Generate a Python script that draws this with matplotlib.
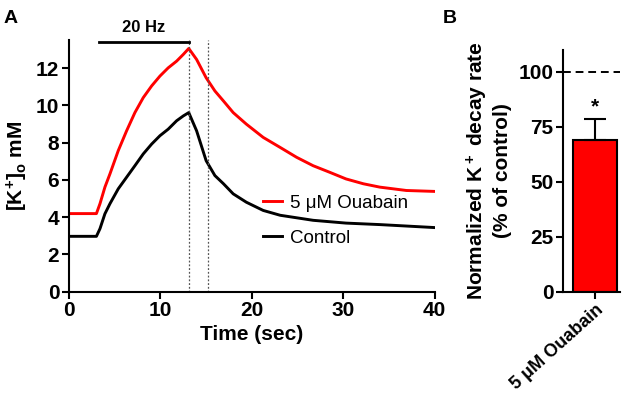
import matplotlib
matplotlib.use("Agg")
import matplotlib.pyplot as plt

plt.rcParams['font.family'] = ['Liberation Sans', 'DejaVu Sans']
plt.rcParams['mathtext.default'] = 'regular'

# panel A traces
t_ctrl = [0, 3.0, 3.39, 3.93, 4.48, 5.39, 6.30, 7.21, 8.12, 9.04, 9.95, 10.85, 11.77, 12.5, 13.1,
          13.96, 15.0, 15.96, 16.9, 17.96, 19.4, 21.24, 23.1, 26.7, 30.3, 34.0, 40]
k_ctrl = [2.97, 2.97, 3.38, 4.18, 4.72, 5.52, 6.14, 6.76, 7.39, 7.92, 8.37, 8.72, 9.17, 9.43, 9.61,
          8.63, 7.03, 6.23, 5.79, 5.25, 4.80, 4.36, 4.10, 3.83, 3.68, 3.60, 3.44]
t_oua = [0, 3.0, 3.39, 3.93, 4.48, 5.39, 6.30, 7.21, 8.12, 9.04, 9.95, 10.85, 11.77, 12.5, 13.1,
         13.96, 15.0, 15.96, 16.9, 17.96, 19.4, 21.24, 23.1, 24.9, 26.7, 28.5, 30.3, 32.2, 34.0, 36.9, 40]
k_oua = [4.19, 4.19, 4.72, 5.61, 6.32, 7.57, 8.63, 9.61, 10.41, 11.04, 11.57, 12.01, 12.37, 12.73, 13.05,
         12.46, 11.48, 10.77, 10.23, 9.61, 8.99, 8.28, 7.74, 7.21, 6.76, 6.41, 6.05, 5.79, 5.61, 5.43, 5.38]
stim = (3.3, 13.1)
marks = [13.1, 15.2]

# panel B
groups = ['5 μM Ouabain']
rate = [69]
rate_err = [9.6]

fig = plt.figure(figsize=(6.3, 4.05), dpi=100)
ax = fig.add_axes([0.1095, 0.2798, 0.5805, 0.6212])
ax.plot(t_oua, k_oua, color='#ff0000', lw=2.1, label='5 μM Ouabain')
ax.plot(t_ctrl, k_ctrl, color='black', lw=2.1, label='Control')
for m in marks:
    ax.axvline(m, color='#555555', lw=0.9, ls=(0, (1.5, 1.5)))
ax.plot(stim, [13.4, 13.4], color='black', lw=2, clip_on=False)
ax.text(sum(stim) / 2, 13.75, '20 Hz', ha='center', va='bottom', fontsize=12, fontweight='bold')
ax.set_xlim(0, 40)
ax.set_ylim(0, 13.5)
ax.set_xticks([0, 10, 20, 30, 40])
ax.set_yticks([0, 2, 4, 6, 8, 10, 12])
ax.set_xlabel('Time (sec)', fontsize=15, fontweight='bold', labelpad=3)
ax.set_ylabel('[K$^{+}$]$_{o}$ mM', fontsize=15, fontweight='bold', labelpad=4)
ax.legend(loc='center left', bbox_to_anchor=(0.505, 0.283), frameon=False, borderpad=0,
          fontsize=13.5, handlelength=1.0, handletextpad=0.45, labelspacing=0.95)

bx = fig.add_axes([0.894, 0.2798, 0.09, 0.5975])
bx.bar([0], rate, width=1.0, color='#ff0000', edgecolor='black', lw=1.5)
bx.errorbar([0], rate, yerr=[[0], rate_err], fmt='none', ecolor='black',
            elinewidth=1.5, capsize=8, capthick=1.5)
bx.plot([-0.727, 0.568], [100, 100], color='black', lw=1.4, ls=(0, (4, 2.5)))
bx.text(0, rate[0] + rate_err[0] + 1.0, '*', ha='center', va='bottom', fontsize=15, fontweight='bold')
bx.set_xlim(-0.727, 0.568)
bx.set_ylim(0, 110)
bx.set_yticks([0, 25, 50, 75, 100])
bx.set_xticks([0])
bx.set_xticklabels(groups, rotation=42, ha='right', rotation_mode='anchor', fontsize=13, fontweight='bold')
bx.set_ylabel('Normalized K$^+$ decay rate\n(% of control)', fontsize=15, fontweight='bold', labelpad=5)

for a in [ax, bx]:
    a.spines['top'].set_visible(False)
    a.spines['right'].set_visible(False)
    for s in ['left', 'bottom']:
        a.spines[s].set_linewidth(1.5)
    a.tick_params(width=1.5, length=5, labelsize=15, pad=2)
    for lab in a.get_yticklabels():
        lab.set_fontweight('bold')
for lab in ax.get_xticklabels():
    lab.set_fontweight('bold')
bx.tick_params(axis='x', labelsize=13)

fig.text(0.005, 0.975, 'A', fontsize=14, fontweight='bold', va='top')
fig.text(0.703, 0.975, 'B', fontsize=14, fontweight='bold', va='top')

fig.savefig('out.png', dpi=100)
